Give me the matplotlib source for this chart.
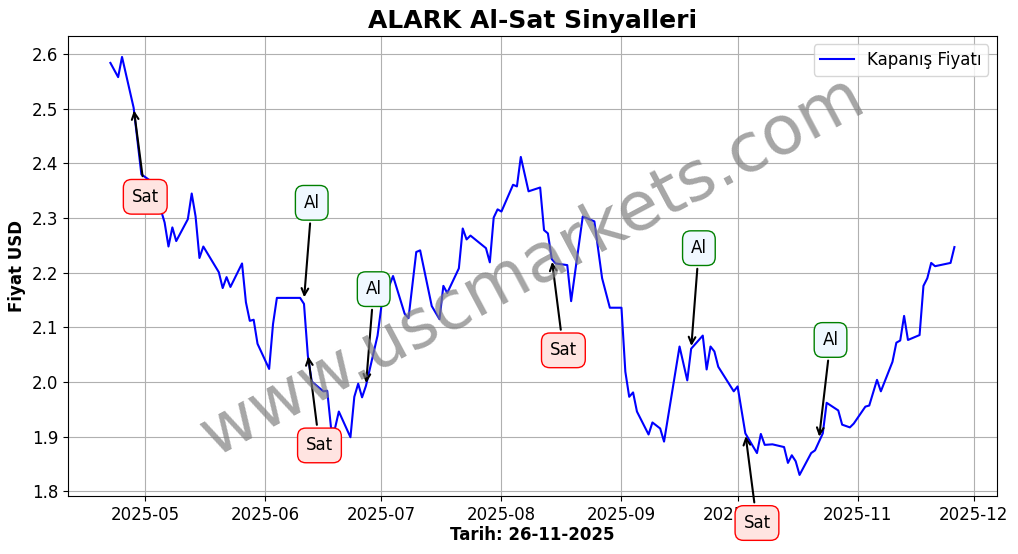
import matplotlib
matplotlib.use('Agg')
import matplotlib.pyplot as plt
import matplotlib.dates as mdates
import pandas as pd

# closing prices
dates = pd.to_datetime([
    '2025-04-22', '2025-04-24', '2025-04-25', '2025-04-28', '2025-04-30', '2025-05-02',
    '2025-05-05', '2025-05-06', '2025-05-07', '2025-05-08', '2025-05-09', '2025-05-12',
    '2025-05-13', '2025-05-14', '2025-05-15', '2025-05-16', '2025-05-20', '2025-05-21',
    '2025-05-22', '2025-05-23', '2025-05-26', '2025-05-27', '2025-05-28', '2025-05-29',
    '2025-05-30', '2025-06-02', '2025-06-03', '2025-06-04', '2025-06-10', '2025-06-11',
    '2025-06-12', '2025-06-13', '2025-06-16', '2025-06-17', '2025-06-18', '2025-06-19',
    '2025-06-20', '2025-06-23', '2025-06-24', '2025-06-25', '2025-06-26', '2025-06-27',
    '2025-06-30', '2025-07-01', '2025-07-04', '2025-07-07', '2025-07-08', '2025-07-10',
    '2025-07-11', '2025-07-14', '2025-07-16', '2025-07-17', '2025-07-18', '2025-07-21',
    '2025-07-22', '2025-07-23', '2025-07-24', '2025-07-28', '2025-07-29', '2025-07-30',
    '2025-07-31', '2025-08-01', '2025-08-04', '2025-08-05', '2025-08-06', '2025-08-08',
    '2025-08-11', '2025-08-12', '2025-08-13', '2025-08-14', '2025-08-15', '2025-08-18',
    '2025-08-19', '2025-08-22', '2025-08-25', '2025-08-27', '2025-08-29', '2025-09-01',
    '2025-09-02', '2025-09-03', '2025-09-04', '2025-09-05', '2025-09-08', '2025-09-09',
    '2025-09-11', '2025-09-12', '2025-09-16', '2025-09-18', '2025-09-19', '2025-09-22',
    '2025-09-23', '2025-09-24', '2025-09-25', '2025-09-26', '2025-09-30', '2025-10-01',
    '2025-10-03', '2025-10-06', '2025-10-07', '2025-10-08', '2025-10-10', '2025-10-13',
    '2025-10-14', '2025-10-15', '2025-10-16', '2025-10-17', '2025-10-20', '2025-10-21',
    '2025-10-23', '2025-10-24', '2025-10-27', '2025-10-28', '2025-10-30', '2025-10-31',
    '2025-11-03', '2025-11-04', '2025-11-06', '2025-11-07', '2025-11-10', '2025-11-11',
    '2025-11-12', '2025-11-13', '2025-11-14', '2025-11-17', '2025-11-18', '2025-11-19',
    '2025-11-20', '2025-11-21', '2025-11-25', '2025-11-26',
])
prices = [
    2.584, 2.558, 2.595, 2.502, 2.380, 2.370,
    2.316, 2.292, 2.248, 2.283, 2.258, 2.298,
    2.345, 2.303, 2.227, 2.248, 2.201, 2.172,
    2.192, 2.174, 2.217, 2.146, 2.112, 2.114,
    2.070, 2.024, 2.106, 2.154, 2.154, 2.143,
    2.048, 2.001, 1.983, 1.984, 1.915, 1.915,
    1.946, 1.899, 1.973, 1.997, 1.972, 1.993,
    2.085, 2.139, 2.194, 2.125, 2.117, 2.238,
    2.241, 2.139, 2.115, 2.176, 2.163, 2.208,
    2.281, 2.261, 2.268, 2.245, 2.219, 2.301,
    2.316, 2.312, 2.361, 2.358, 2.412, 2.349,
    2.356, 2.278, 2.272, 2.225, 2.217, 2.214,
    2.148, 2.303, 2.294, 2.190, 2.136, 2.136,
    2.019, 1.973, 1.981, 1.946, 1.904, 1.926,
    1.915, 1.891, 2.065, 2.003, 2.061, 2.085,
    2.023, 2.065, 2.056, 2.028, 1.983, 1.992,
    1.906, 1.870, 1.905, 1.885, 1.886, 1.881,
    1.852, 1.866, 1.855, 1.830, 1.870, 1.875,
    1.906, 1.962, 1.948, 1.922, 1.917, 1.924,
    1.955, 1.957, 2.004, 1.983, 2.037, 2.072,
    2.076, 2.121, 2.077, 2.086, 2.176, 2.190,
    2.218, 2.212, 2.218, 2.247,
]

# signals: (label, point date, point price, text date, text price)
signals = [
    ('Sat', '2025-04-28', 2.502, '2025-05-01', 2.339),
    ('Al',  '2025-06-11', 2.150, '2025-06-13', 2.328),
    ('Sat', '2025-06-12', 2.052, '2025-06-15', 1.884),
    ('Al',  '2025-06-27', 1.993, '2025-06-29', 2.170),
    ('Sat', '2025-08-14', 2.225, '2025-08-17', 2.058),
    ('Al',  '2025-09-19', 2.061, '2025-09-21', 2.245),
    ('Sat', '2025-10-03', 1.906, '2025-10-06', 1.742),
    ('Al',  '2025-10-22', 1.895, '2025-10-25', 2.077),
]

fig, ax = plt.subplots(figsize=(10.18, 5.54), dpi=100)
ax.plot(dates, prices, color='blue', linewidth=1.5, label='Kapanış Fiyatı')

for label, d, p, td, tp in signals:
    if label == 'Al':
        box = dict(boxstyle='round,pad=0.5', fc='aliceblue', ec='green')
    else:
        box = dict(boxstyle='round,pad=0.5', fc='mistyrose', ec='red')
    ax.annotate(label, xy=(pd.Timestamp(d), p), xytext=(pd.Timestamp(td), tp),
                ha='center', va='center', fontsize=12, bbox=box,
                arrowprops=dict(arrowstyle='->', color='black', lw=1.5),
                annotation_clip=False)

ax.text(0.5, 0.5, 'www.uscmarkets.com', transform=ax.transAxes, fontsize=49,
        color='gray', alpha=0.7, rotation=28, ha='center', va='center')

ax.set_title('ALARK Al-Sat Sinyalleri', fontsize=18, fontweight='bold')
ax.set_xlabel('Tarih: 26-11-2025', fontsize=12, fontweight='bold', labelpad=2)
ax.set_ylabel('Fiyat USD', fontsize=12, fontweight='bold')
ax.xaxis.set_major_locator(mdates.MonthLocator())
ax.xaxis.set_major_formatter(mdates.DateFormatter('%Y-%m'))
ax.tick_params(labelsize=12)
ax.grid(True, color='#b0b0b0')
ax.legend(loc='upper right', fontsize=12)

fig.subplots_adjust(left=0.067, right=0.979, top=0.935, bottom=0.105)
fig.savefig('out.png', dpi=100)
